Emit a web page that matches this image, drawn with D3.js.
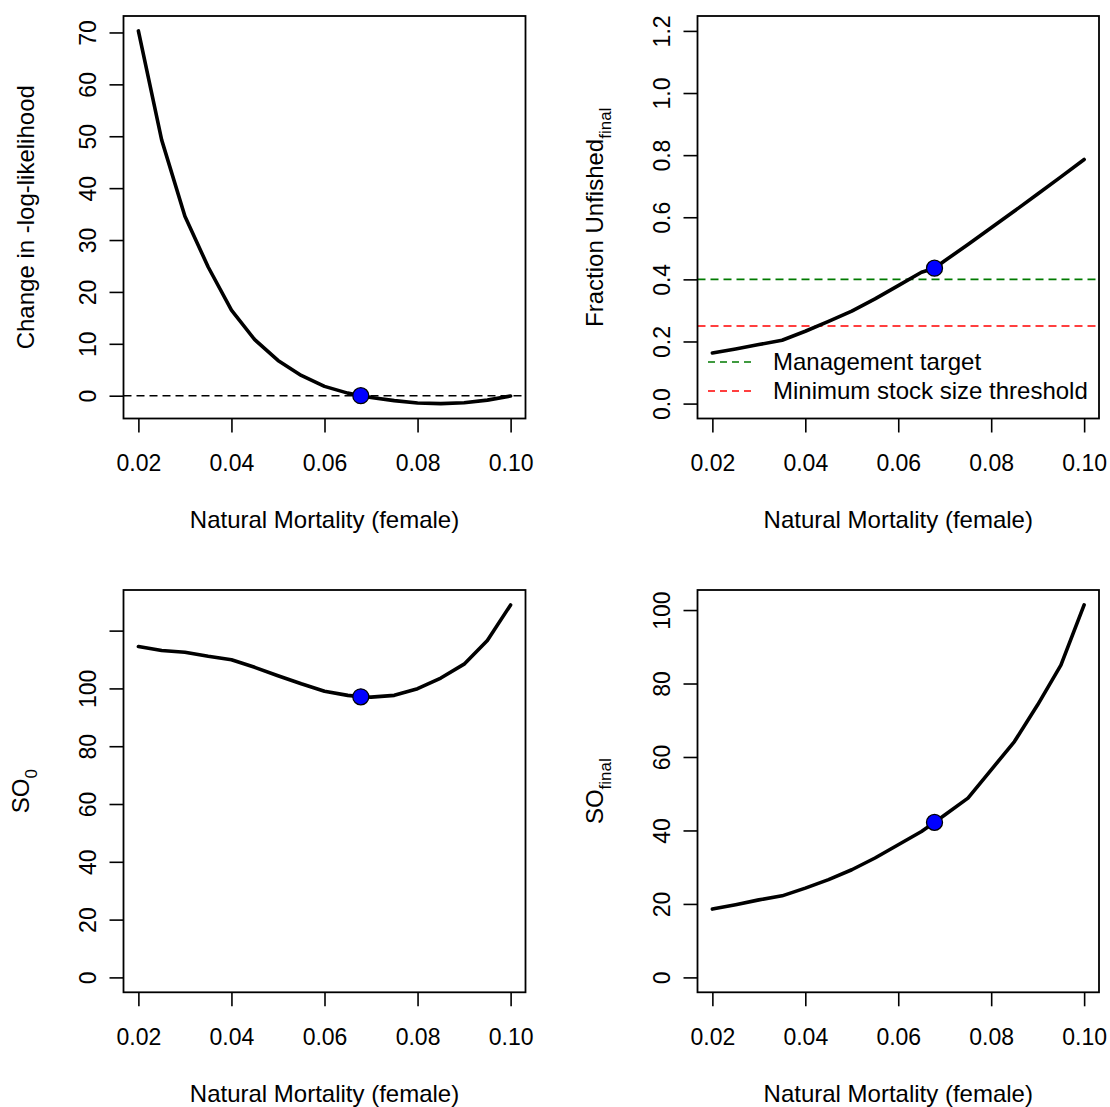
<!DOCTYPE html>
<html>
<head>
<meta charset="utf-8">
<script src="https://cdn.jsdelivr.net/npm/d3@7"></script>
<style>
  body { margin: 0; background: #fff; }
  svg { display: block; font-family: "Liberation Sans", Arial, sans-serif; }
</style>
</head>
<body>
<svg id="chart"></svg>
<script>
// Profile over female natural mortality (the MLE 0.0678 is part of the grid)
const natM = [0.02, 0.025, 0.03, 0.035, 0.04, 0.045, 0.05, 0.055, 0.06, 0.065, 0.0678, 0.07, 0.075, 0.08, 0.085, 0.09, 0.095, 0.1];
const deltaNLL = [70.3, 49.3, 34.6, 24.8, 16.5, 10.8, 6.8, 3.9, 1.8, 0.5, 0, -0.35, -0.95, -1.4, -1.52, -1.35, -0.85, -0.05];
const fracUnfished = [0.163, 0.176, 0.19, 0.204, 0.233, 0.265, 0.298, 0.337, 0.38, 0.423, 0.436, 0.46, 0.512, 0.566, 0.62, 0.675, 0.73, 0.786];
const so0 = [114.5, 113.1, 112.5, 111.1, 109.9, 107.3, 104.4, 101.6, 99.0, 97.6, 97.1, 97.0, 97.6, 99.9, 103.6, 108.4, 116.6, 128.9];
const soFinal = [18.6, 19.8, 21.1, 22.2, 24.3, 26.6, 29.3, 32.5, 36.1, 39.7, 42.2, 44.2, 48.8, 56.5, 64.2, 74.2, 85.0, 101.4];
const mleM = 0.0678;

const xTicks = [0.02, 0.04, 0.06, 0.08, 0.1];
const nllTicks = [0, 10, 20, 30, 40, 50, 60, 70];
const fracTicks = [0, 0.2, 0.4, 0.6, 0.8, 1.0, 1.2];
const so0Ticks = [0, 20, 40, 60, 80, 100, 120];
const so0Labels = ["0", "20", "40", "60", "80", "100", ""];
const soFinalTicks = [0, 20, 40, 60, 80, 100];

const refLines = [0.4, 0.25];
const refColors = ["#007a00", "#ff0000"];
const legendLabels = ["Management target", "Minimum stock size threshold"];

const xTitle = "Natural Mortality (female)";

let width = 1110;
let height = 1107;
let tickFont = 23;
let labFont = 24;
let svg = d3.select("#chart").attr("width", width).attr("height", height);

// R style 4% padding on the data range
const pad = (ext) => {
  let d = (ext[1] - ext[0]) * 0.04;
  return [ext[0] - d, ext[1] + d];
};

const drawPanel = (p) => {
  let g = svg.append("g");
  let x = d3.scaleLinear().domain(pad(d3.extent(natM))).range([p.left, p.right]);
  let y = d3.scaleLinear().domain(pad(p.yDomain)).range([p.bottom, p.top]);

  // x axis
  let xa = g.append("g")
    .attr("transform", "translate(0," + p.bottom + ")")
    .call(d3.axisBottom(x).tickValues(xTicks).tickFormat(d3.format(".2f")).tickSize(14).tickPadding(22));
  xa.select(".domain").remove();
  xa.selectAll("line").attr("stroke", "#000").attr("stroke-width", 1.6);
  xa.selectAll("text").attr("font-size", tickFont).attr("fill", "#000").attr("font-family", "Liberation Sans, Arial, sans-serif");

  // y axis, labels parallel to the axis
  let ya = g.append("g")
    .attr("transform", "translate(" + p.left + ",0)")
    .call(d3.axisLeft(y).tickValues(p.yTicks).tickFormat((d, i) => p.yLabels[i]).tickSize(14));
  ya.select(".domain").remove();
  ya.selectAll("line").attr("stroke", "#000").attr("stroke-width", 1.6);
  ya.selectAll("text")
    .attr("x", null)
    .attr("dy", "0.35em")
    .attr("transform", "translate(-36,0) rotate(-90)")
    .attr("text-anchor", "middle")
    .attr("font-size", tickFont)
    .attr("fill", "#000")
    .attr("font-family", "Liberation Sans, Arial, sans-serif");

  // reference lines
  (p.hLines || []).forEach((h) => {
    g.append("line")
      .attr("x1", p.left).attr("x2", p.right)
      .attr("y1", y(h.value)).attr("y2", y(h.value))
      .attr("stroke", h.color)
      .attr("stroke-width", 1.6)
      .attr("stroke-dasharray", "8,5");
  });

  // profile curve
  let line = d3.line().x((d, i) => x(natM[i])).y((d) => y(d));
  g.append("path")
    .attr("d", line(p.values))
    .attr("fill", "none")
    .attr("stroke", "#000")
    .attr("stroke-width", 3.6)
    .attr("stroke-linejoin", "round")
    .attr("stroke-linecap", "round");

  // MLE point
  let mi = natM.indexOf(mleM);
  g.append("circle")
    .attr("cx", x(mleM))
    .attr("cy", y(p.values[mi]))
    .attr("r", 8)
    .attr("fill", "#0000ff")
    .attr("stroke", "#000")
    .attr("stroke-width", 1.3);

  // box
  g.append("rect")
    .attr("x", p.left).attr("y", p.top)
    .attr("width", p.right - p.left).attr("height", p.bottom - p.top)
    .attr("fill", "none")
    .attr("stroke", "#000")
    .attr("stroke-width", 1.8);

  // axis titles
  g.append("text")
    .attr("x", (p.left + p.right) / 2)
    .attr("y", p.bottom + 101)
    .attr("dy", "0.35em")
    .attr("text-anchor", "middle")
    .attr("font-size", labFont)
    .text(xTitle);

  let yt = g.append("text")
    .attr("transform", "translate(" + (p.left - 98 - (p.ySub ? 5 : 0)) + "," + (p.top + p.bottom) / 2 + ") rotate(-90)")
    .attr("dy", "0.35em")
    .attr("text-anchor", "middle")
    .attr("font-size", labFont);
  yt.append("tspan").text(p.yTitle);
  if (p.ySub) {
    yt.append("tspan").attr("font-size", 17).attr("dy", "0.45em").text(p.ySub);
  }

  // legend
  if (p.legend) {
    p.legend.forEach((l, i) => {
      let ly = p.bottom - 56.5 + i * 29;
      g.append("line")
        .attr("x1", p.left + 10.5).attr("x2", p.left + 55.5)
        .attr("y1", ly).attr("y2", ly)
        .attr("stroke", l.color)
        .attr("stroke-width", 1.6)
        .attr("stroke-dasharray", "7,5");
      g.append("text")
        .attr("x", p.left + 75.5)
        .attr("y", ly)
        .attr("dy", "0.35em")
        .attr("font-size", labFont)
        .text(l.label);
    });
  }
};

let cols = [[123.5, 525.5], [697.5, 1099]];
let rows = [[16, 418.5], [590, 992.3]];

drawPanel({
  left: cols[0][0], right: cols[0][1], top: rows[0][0], bottom: rows[0][1],
  values: deltaNLL, yDomain: d3.extent(deltaNLL),
  yTicks: nllTicks, yLabels: nllTicks.map(String),
  yTitle: "Change in -log-likelihood",
  hLines: [{ value: 0, color: "#000" }]
});

drawPanel({
  left: cols[1][0], right: cols[1][1], top: rows[0][0], bottom: rows[0][1],
  values: fracUnfished, yDomain: [0, 1.2],
  yTicks: fracTicks, yLabels: fracTicks.map(d3.format(".1f")),
  yTitle: "Fraction Unfished", ySub: "final",
  hLines: refLines.map((v, i) => ({ value: v, color: refColors[i] })),
  legend: legendLabels.map((l, i) => ({ label: l, color: refColors[i] }))
});

drawPanel({
  left: cols[0][0], right: cols[0][1], top: rows[1][0], bottom: rows[1][1],
  values: so0, yDomain: [0, d3.max(so0)],
  yTicks: so0Ticks, yLabels: so0Labels,
  yTitle: "SO", ySub: "0"
});

drawPanel({
  left: cols[1][0], right: cols[1][1], top: rows[1][0], bottom: rows[1][1],
  values: soFinal, yDomain: [0, d3.max(soFinal)],
  yTicks: soFinalTicks, yLabels: soFinalTicks.map(String),
  yTitle: "SO", ySub: "final"
});
</script>
</body>
</html>
